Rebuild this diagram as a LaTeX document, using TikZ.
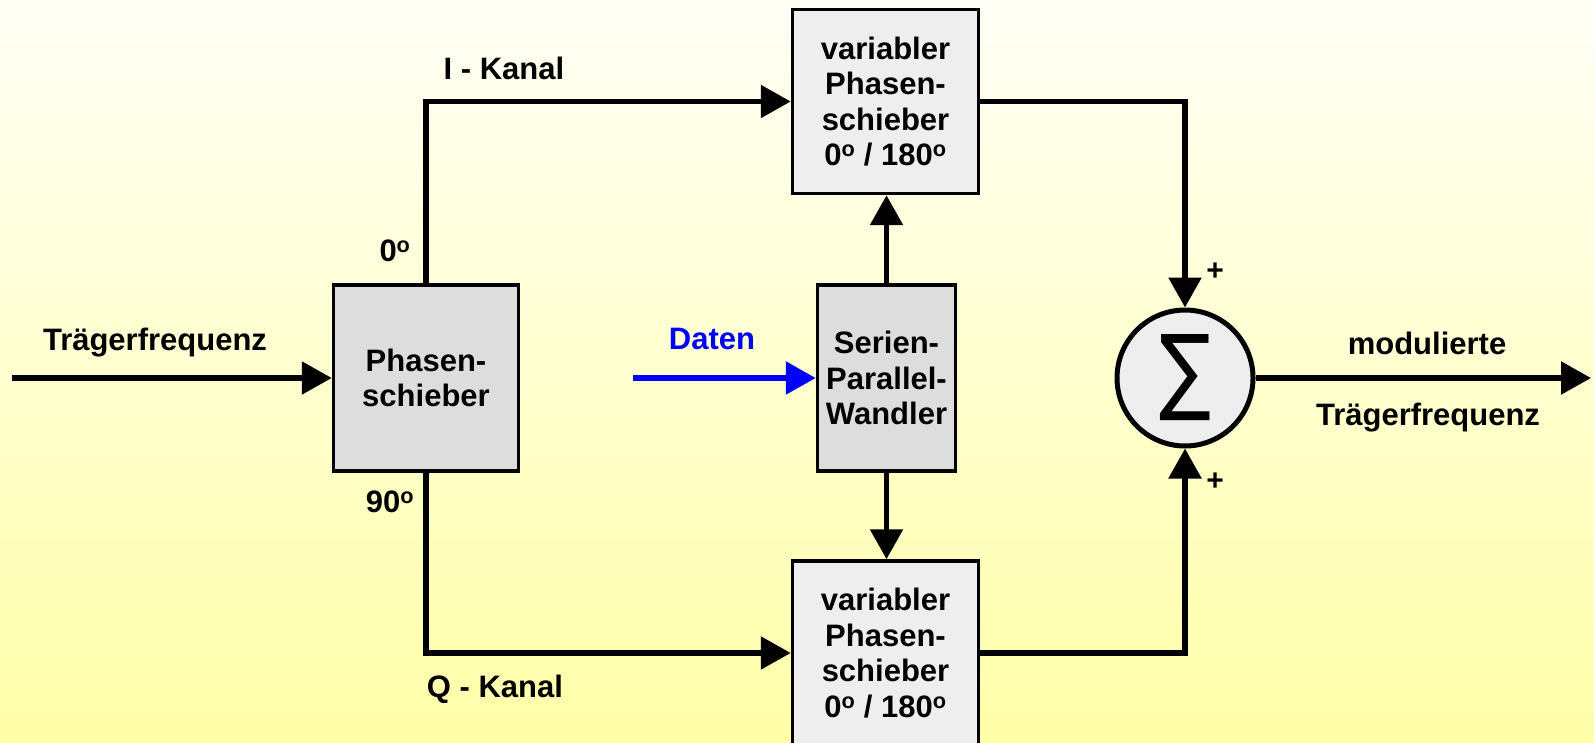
\documentclass[tikz,border=0pt]{standalone}
\usepackage{fontspec}
\setmainfont{Liberation Sans}
\newfontfamily\dejavu{DejaVu Sans}
\usetikzlibrary{arrows.meta}
\newcommand\blbl{\fontsize{31}{35.5}\selectfont\bfseries}
\newcommand\dg{\textsuperscript{o}}
\definecolor{bgtop}{RGB}{255,255,246}
\definecolor{bgbot}{RGB}{255,255,168}
\definecolor{darkfill}{RGB}{221,221,221}
\definecolor{lightfill}{RGB}{238,238,238}
\begin{document}
\begin{tikzpicture}[x=1pt,y=-1pt,
  blockdark/.style={draw=black,line width=3.5pt,fill=darkfill,align=center,font=\blbl,inner sep=0pt},
  blocklight/.style={draw=black,line width=3.5pt,fill=lightfill,align=center,font=\blbl,inner sep=0pt},
  conn/.style={line width=5.5pt,-{Triangle[length=30pt,width=32pt]}},
  lbl/.style={font=\blbl,inner sep=0pt},
  plus/.style={font=\fontsize{30}{30}\selectfont\bfseries,inner sep=0pt}
]
\shade[top color=bgtop,bottom color=bgbot] (0,0) rectangle (1594,743);
\useasboundingbox (0,0) rectangle (1594,743);
\clip (0,0) rectangle (1594,743);

\node[blockdark,minimum width=185pt,minimum height=186pt] (ps) at (426,378) {Phasen-\\schieber};
\node[blockdark,minimum width=138pt,minimum height=186pt] (spw) at (886.5,378) {Serien-\\Parallel-\\Wandler};
\node[blocklight,minimum width=186pt,minimum height=184pt] (vt) at (885.5,101.5) {variabler\\Phasen-\\schieber\\0\dg{} / 180\dg};
\node[blocklight,minimum width=186pt,minimum height=184pt] (vb) at (885.5,653) {variabler\\Phasen-\\schieber\\0\dg{} / 180\dg};
\node[circle,draw=black,line width=5pt,fill=lightfill,minimum size=136pt,inner sep=0pt] (sum) at (1185,378) {\resizebox{52pt}{68pt}{\dejavu\fontsize{20}{20}\selectfont ∑}};

\coordinate (in) at (12,378);
\coordinate (out) at (1591,378);
\coordinate (din) at (633,378);

\draw[conn] (in) -- (ps.west);
\draw[conn] (ps.north) |- (vt.west);
\draw[conn] (ps.south) |- (vb.west);
\draw[conn] (spw.north) -- (spw.north |- vt.south);
\draw[conn] (spw.south) -- (spw.south |- vb.north);
\draw[conn,blue] (din) -- (spw.west);
\draw[conn] (vt.east) -| (sum.north);
\draw[conn] (vb.east) -| (sum.south);
\draw[conn] (sum.east) -- (out);

\node[lbl] (t1) at (155,343) {Trägerfrequenz};
\node[lbl] (ik) at (504,68) {I - Kanal};
\node[lbl] (d0) at (395,251) {0\dg};
\node[lbl] (d90) at (390,502) {90\dg};
\node[lbl] (qk) at (495,689) {Q - Kanal};
\node[lbl,text=blue] (dat) at (712,339) {Daten};
\node[lbl] (mod) at (1427,343) {modulierte};
\node[lbl] (t2) at (1428,418) {Trägerfrequenz};
\node[plus] (p1) at (1215,272) {+};
\node[plus] (p2) at (1215,482) {+};
\end{tikzpicture}
\end{document}
